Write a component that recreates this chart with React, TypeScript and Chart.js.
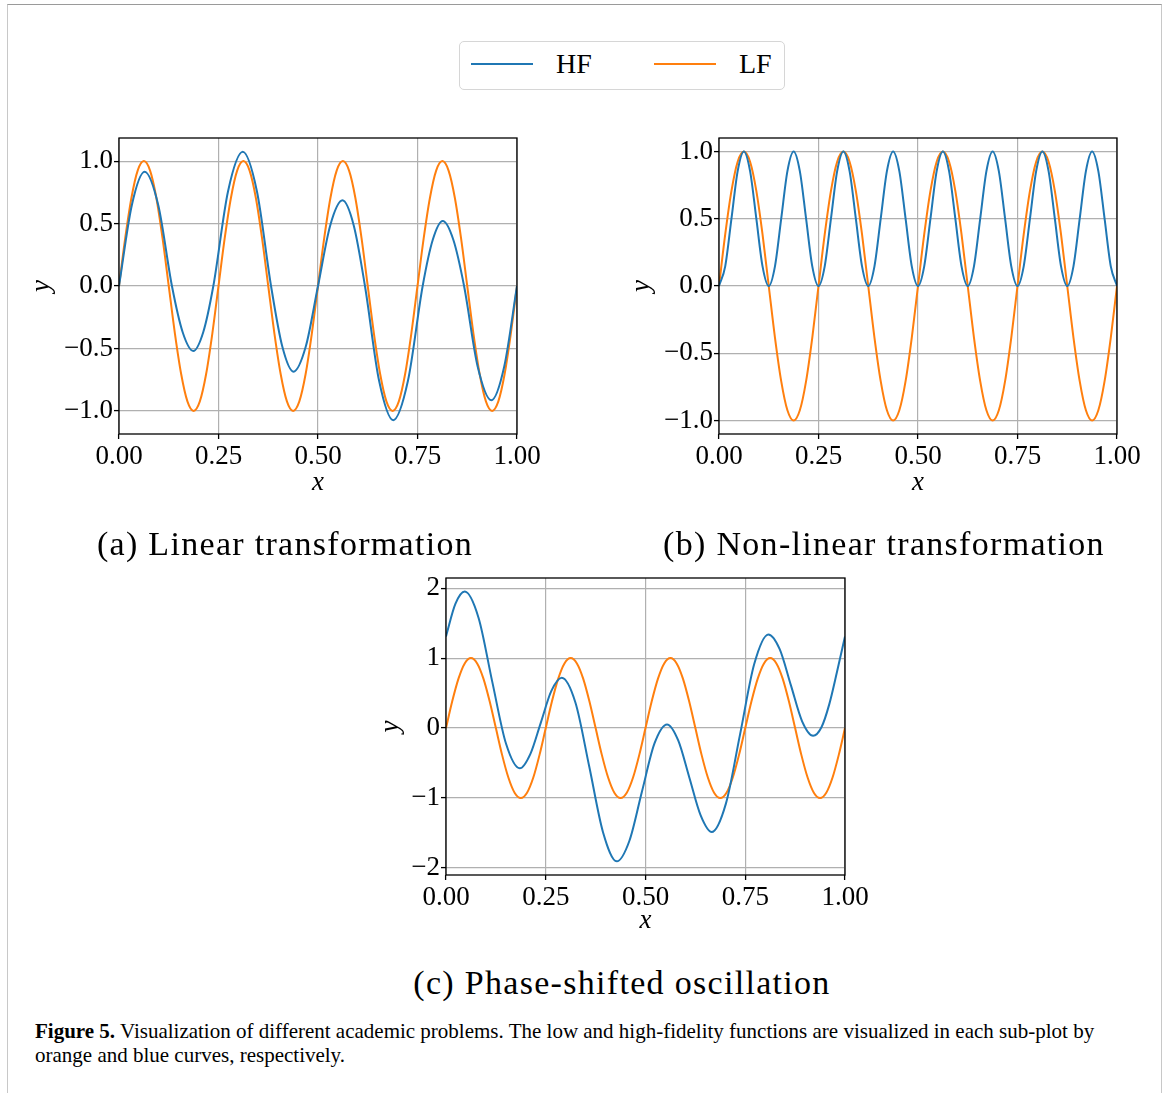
import React, { useEffect, useRef } from 'react';
import { Chart, registerables } from 'chart.js';

Chart.register(...registerables);

// ---------- data ----------
const X_TICKS = [0, 0.25, 0.5, 0.75, 1];
const X_TICK_LABELS = ['0.00', '0.25', '0.50', '0.75', '1.00'];
const Y_TICKS_AB = [-1, -0.5, 0, 0.5, 1];
const Y_TICK_LABELS_AB = ['−1.0', '−0.5', '0.0', '0.5', '1.0'];
const Y_TICKS_C = [-2, -1, 0, 1, 2];
const Y_TICK_LABELS_C = ['−2', '−1', '0', '1', '2'];

// sample positions for the LF curve (and HF of panel b)
const X_GRID = [
  0, 0.0156, 0.0313, 0.0469, 0.0625, 0.0781, 0.0938, 0.1094, 0.125, 0.1406, 0.1563, 0.1719, 0.1875, 0.2031, 0.2188, 0.2344,
  0.25, 0.2656, 0.2813, 0.2969, 0.3125, 0.3281, 0.3438, 0.3594, 0.375, 0.3906, 0.4063, 0.4219, 0.4375, 0.4531, 0.4688, 0.4844,
  0.5, 0.5156, 0.5313, 0.5469, 0.5625, 0.5781, 0.5938, 0.6094, 0.625, 0.6406, 0.6563, 0.6719, 0.6875, 0.7031, 0.7188, 0.7344,
  0.75, 0.7656, 0.7813, 0.7969, 0.8125, 0.8281, 0.8438, 0.8594, 0.875, 0.8906, 0.9063, 0.9219, 0.9375, 0.9531, 0.9688, 0.9844,
  1,
];

const LF_Y = [
  0, 0.383, 0.707, 0.924, 1, 0.924, 0.707, 0.383, 0, -0.383, -0.707, -0.924, -1, -0.924, -0.707, -0.383,
  0, 0.383, 0.707, 0.924, 1, 0.924, 0.707, 0.383, 0, -0.383, -0.707, -0.924, -1, -0.924, -0.707, -0.383,
  0, 0.383, 0.707, 0.924, 1, 0.924, 0.707, 0.383, 0, -0.383, -0.707, -0.924, -1, -0.924, -0.707, -0.383,
  0, 0.383, 0.707, 0.924, 1, 0.924, 0.707, 0.383, 0, -0.383, -0.707, -0.924, -1, -0.924, -0.707, -0.383,
  0,
];

const HF_B_Y = [
  0, 0.146, 0.5, 0.854, 1, 0.854, 0.5, 0.146, 0, 0.146, 0.5, 0.854, 1, 0.854, 0.5, 0.146,
  0, 0.146, 0.5, 0.854, 1, 0.854, 0.5, 0.146, 0, 0.146, 0.5, 0.854, 1, 0.854, 0.5, 0.146,
  0, 0.146, 0.5, 0.854, 1, 0.854, 0.5, 0.146, 0, 0.146, 0.5, 0.854, 1, 0.854, 0.5, 0.146,
  0, 0.146, 0.5, 0.854, 1, 0.854, 0.5, 0.146, 0, 0.146, 0.5, 0.854, 1, 0.854, 0.5, 0.146,
  0,
];

const HF_A_X = [
  0, 0.0322, 0.0644, 0.0987, 0.133, 0.1598, 0.1866, 0.2118, 0.237, 0.274, 0.311, 0.3465, 0.382, 0.4103, 0.4385, 0.4693,
  0.5, 0.5307, 0.5615, 0.5898, 0.618, 0.6535, 0.689, 0.726, 0.763, 0.7882, 0.8134, 0.8402, 0.867, 0.9013, 0.9356, 0.9678,
  1,
];
const HF_A_Y = [
  0, 0.647, 0.915, 0.647, 0, -0.368, -0.52, -0.368, 0, 0.759, 1.074, 0.759, 0, -0.485, -0.686, -0.485,
  0, 0.485, 0.686, 0.485, 0, -0.759, -1.074, -0.759, 0, 0.368, 0.52, 0.368, 0, -0.647, -0.915, -0.647,
  0,
];

const HF_C_X = [
  0, 0.0235, 0.047, 0.0815, 0.116, 0.1505, 0.185, 0.2113, 0.2375, 0.2638, 0.29, 0.3245, 0.359, 0.3935, 0.428, 0.4595,
  0.491, 0.5225, 0.554, 0.582, 0.61, 0.638, 0.666, 0.7015, 0.737, 0.7725, 0.808, 0.8363, 0.8645, 0.8925, 0.92, 0.941,
  0.9605, 0.98, 1,
];
const HF_C_Y = [
  1.31, 1.775, 1.952, 1.578, 0.66, -0.225, -0.576, -0.372, 0.075, 0.527, 0.719, 0.362, -0.55, -1.488, -1.905, -1.614,
  -0.91, -0.22, 0.052, -0.177, -0.71, -1.245, -1.486, -1.08, -0.09, 0.915, 1.338, 1.128, 0.61, 0.097, -0.11, 0.012,
  0.339, 0.804, 1.31,
];

const SERIES_NAMES = ['HF', 'LF'];
const HF_COLOR = '#1f77b4';
const LF_COLOR = '#ff7f0e';

const FONT = "'Liberation Serif', 'Times New Roman', serif";

function pts(xs: number[], ys: number[]) {
  return xs.map((x, i) => ({ x, y: ys[i] }));
}

const framePlugin = {
  id: 'frame',
  afterDraw(chart: any) {
    const { ctx, chartArea: a } = chart;
    ctx.save();
    ctx.strokeStyle = '#000';
    ctx.lineWidth = 1.3;
    ctx.strokeRect(a.left, a.top, a.right - a.left, a.bottom - a.top);
    ctx.restore();
  },
};

type PanelProps = {
  left: number;
  top: number;
  width: number;
  height: number;
  padTop: number;
  padRight: number;
  yAxisWidth: number;
  xAxisHeight: number;
  yTitlePad: number;
  xTitlePad: number;
  hf: { x: number; y: number }[];
  lf: { x: number; y: number }[];
  yMin: number;
  yMax: number;
  yTicks: number[];
  yLabels: string[];
};

function Panel(p: PanelProps) {
  const ref = useRef<HTMLCanvasElement | null>(null);
  useEffect(() => {
    if (!ref.current) return;
    const tickFont = { family: FONT, size: 27 };
    const chart = new Chart(ref.current, {
      type: 'line',
      data: {
        datasets: [
          {
            label: SERIES_NAMES[0],
            data: p.hf,
            borderColor: HF_COLOR,
            borderWidth: 2,
            pointRadius: 0,
            cubicInterpolationMode: 'monotone',
            fill: false,
          },
          {
            label: SERIES_NAMES[1],
            data: p.lf,
            borderColor: LF_COLOR,
            borderWidth: 2,
            pointRadius: 0,
            cubicInterpolationMode: 'monotone',
            fill: false,
          },
        ],
      },
      options: {
        responsive: false,
        animation: false,
        events: [],
        layout: { padding: { left: 0, top: p.padTop, right: p.padRight, bottom: 0 } },
        plugins: { legend: { display: false }, tooltip: { enabled: false } },
        scales: {
          x: {
            type: 'linear',
            min: 0,
            max: 1,
            afterBuildTicks: (s: any) => {
              s.ticks = X_TICKS.map((v) => ({ value: v }));
            },
            afterFit: (s: any) => {
              s.height = p.xAxisHeight;
              s.paddingLeft = 0;
              s.paddingRight = 0;
            },
            grid: { color: '#b0b0b0', lineWidth: 1.2, tickColor: '#000', tickWidth: 1.3, tickLength: 5 },
            border: { display: false },
            ticks: {
              autoSkip: false,
              maxRotation: 0,
              padding: 2,
              color: '#000',
              font: tickFont,
              callback: (_v: any, i: number) => X_TICK_LABELS[i],
            },
            title: {
              display: true,
              text: 'x',
              color: '#000',
              font: { family: FONT, size: 27, style: 'italic' },
              padding: { top: 0, bottom: p.xTitlePad },
            },
          },
          y: {
            type: 'linear',
            min: p.yMin,
            max: p.yMax,
            afterBuildTicks: (s: any) => {
              s.ticks = p.yTicks.map((v) => ({ value: v }));
            },
            afterFit: (s: any) => {
              s.width = p.yAxisWidth;
              s.paddingTop = 0;
              s.paddingBottom = 0;
            },
            grid: { color: '#b0b0b0', lineWidth: 1.2, tickColor: '#000', tickWidth: 1.3, tickLength: 5 },
            border: { display: false },
            ticks: {
              autoSkip: false,
              padding: 1,
              color: '#000',
              font: tickFont,
              callback: (_v: any, i: number) => p.yLabels[i],
            },
            title: {
              display: true,
              text: 'y',
              color: '#000',
              font: { family: FONT, size: 27, style: 'italic' },
              padding: { top: p.yTitlePad, bottom: 0 },
            },
          },
        },
      } as any,
      plugins: [framePlugin],
    });
    return () => chart.destroy();
  }, []);
  return (
    <canvas
      ref={ref}
      width={p.width}
      height={p.height}
      style={{ position: 'absolute', left: p.left, top: p.top, width: p.width, height: p.height }}
    />
  );
}

const subcap: React.CSSProperties = {
  position: 'absolute',
  fontFamily: FONT,
  fontSize: 34,
  letterSpacing: 1.3,
  lineHeight: '34px',
  whiteSpace: 'nowrap',
  textAlign: 'center',
  width: 600,
  color: '#000',
};

export default function App() {
  const lf = pts(X_GRID, LF_Y);
  return (
    <div style={{ position: 'absolute', left: 0, top: 0, width: 1167, height: 1093, overflow: 'hidden', background: '#fff' }}>
      <div
        style={{
          position: 'absolute',
          left: 7,
          top: 4,
          width: 1155,
          height: 1200,
          borderTop: '1px solid #9a9a9a',
          borderLeft: '1.5px solid #c8c8c8',
          borderRight: '1.5px solid #c8c8c8',
          boxSizing: 'border-box',
        }}
      />
      {/* legend */}
      <div
        style={{
          position: 'absolute',
          left: 459,
          top: 41,
          width: 326,
          height: 49,
          border: '1px solid #d6d6d6',
          borderRadius: 5,
          boxSizing: 'border-box',
          fontFamily: FONT,
          fontSize: 28,
          color: '#000',
        }}
      >
        <div style={{ position: 'absolute', left: 11, top: 21, width: 62, height: 2, background: HF_COLOR }} />
        <div style={{ position: 'absolute', left: 96, top: 6, lineHeight: '32px' }}>{SERIES_NAMES[0]}</div>
        <div style={{ position: 'absolute', left: 194, top: 21, width: 62, height: 2, background: LF_COLOR }} />
        <div style={{ position: 'absolute', left: 279, top: 6, lineHeight: '32px' }}>{SERIES_NAMES[1]}</div>
      </div>

      <Panel
        left={20}
        top={120}
        width={530}
        height={390}
        padTop={18}
        padRight={33}
        yAxisWidth={99}
        xAxisHeight={76}
        yTitlePad={6}
        xTitlePad={11}
        hf={pts(HF_A_X, HF_A_Y)}
        lf={lf}
        yMin={-1.185}
        yMax={1.185}
        yTicks={Y_TICKS_AB}
        yLabels={Y_TICK_LABELS_AB}
      />
      <Panel
        left={620}
        top={120}
        width={530}
        height={390}
        padTop={18}
        padRight={33}
        yAxisWidth={99}
        xAxisHeight={76}
        yTitlePad={6}
        xTitlePad={11}
        hf={pts(X_GRID, HF_B_Y)}
        lf={lf}
        yMin={-1.1}
        yMax={1.1}
        yTicks={Y_TICKS_AB}
        yLabels={Y_TICK_LABELS_AB}
      />
      <Panel
        left={347}
        top={560}
        width={531}
        height={391}
        padTop={18}
        padRight={33}
        yAxisWidth={99}
        xAxisHeight={76}
        yTitlePad={28}
        xTitlePad={14}
        hf={pts(HF_C_X, HF_C_Y)}
        lf={lf}
        yMin={-2.1}
        yMax={2.145}
        yTicks={Y_TICKS_C}
        yLabels={Y_TICK_LABELS_C}
      />

      <div style={{ ...subcap, left: 285 - 300, top: 527 }}>(a) Linear transformation</div>
      <div style={{ ...subcap, left: 884 - 300, top: 527 }}>(b) Non-linear transformation</div>
      <div style={{ ...subcap, left: 622 - 300, top: 966 }}>(c) Phase-shifted oscillation</div>

      <div
        style={{
          position: 'absolute',
          left: 35,
          top: 1019,
          fontFamily: FONT,
          fontSize: 21,
          lineHeight: '24px',
          whiteSpace: 'nowrap',
          color: '#000',
        }}
      >
        <b>Figure 5.</b> Visualization of different academic problems. The low and high-fidelity functions are visualized in each sub-plot by
        <br />
        orange and blue curves, respectively.
      </div>
    </div>
  );
}
